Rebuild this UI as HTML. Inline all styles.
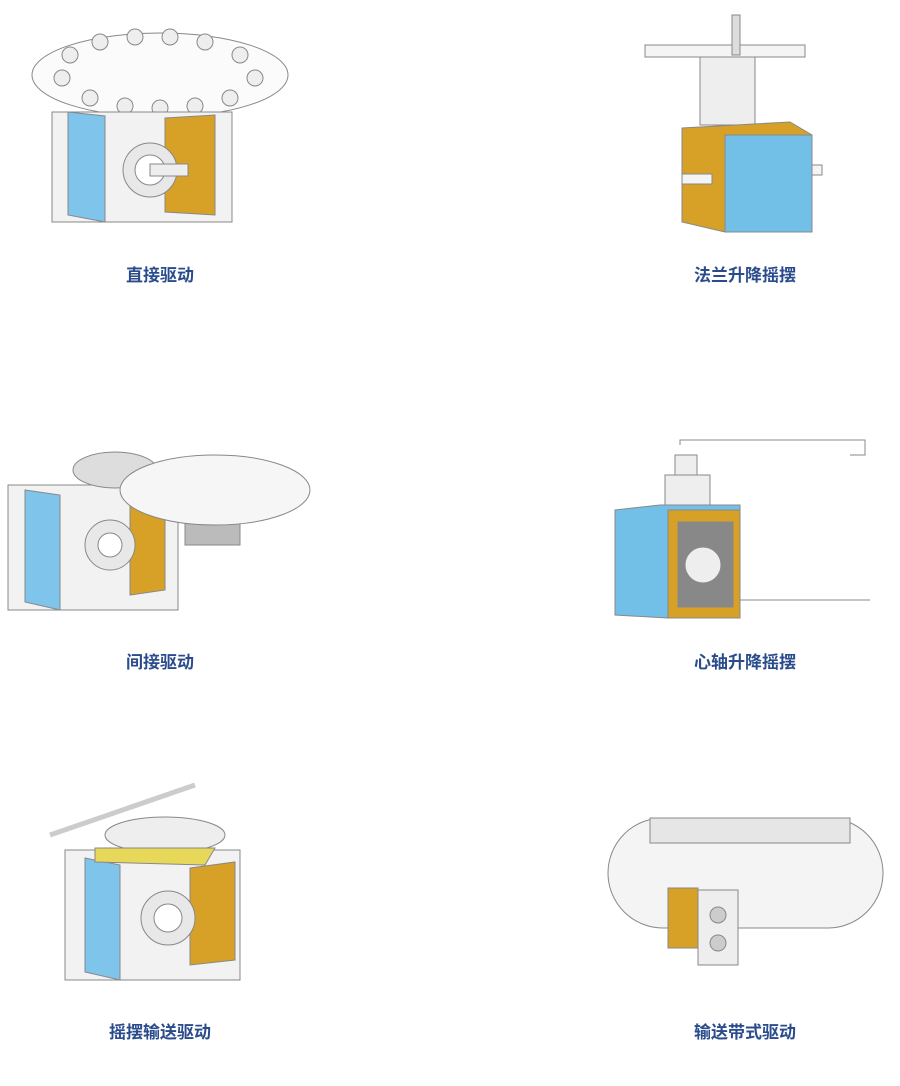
<!DOCTYPE html>
<html><head><meta charset="utf-8"><style>
html,body{margin:0;padding:0;background:#fff;}
svg{display:block}
text{font-family:"Liberation Sans","Noto Sans CJK SC",sans-serif;font-size:17px;font-weight:bold;fill:#2b4c8c;text-anchor:middle}
</style></head><body>
<svg width="900" height="1086" viewBox="0 0 900 1086">
<g stroke="#888" stroke-width="1">
<!-- 1 direct drive -->
<ellipse cx="160" cy="75" rx="128" ry="42" fill="#fbfbfb"/>
<g fill="#eee">
<circle cx="70" cy="55" r="8"/><circle cx="100" cy="42" r="8"/><circle cx="135" cy="37" r="8"/><circle cx="170" cy="37" r="8"/><circle cx="205" cy="42" r="8"/><circle cx="240" cy="55" r="8"/><circle cx="255" cy="78" r="8"/><circle cx="230" cy="98" r="8"/><circle cx="195" cy="106" r="8"/><circle cx="160" cy="108" r="8"/><circle cx="125" cy="106" r="8"/><circle cx="90" cy="98" r="8"/><circle cx="62" cy="78" r="8"/></g>
<rect x="52" y="112" width="180" height="110" fill="#f2f2f2"/>
<polygon points="68,112 105,116 105,222 68,215" fill="#7fc4ea"/>
<polygon points="165,118 215,115 215,215 165,212" fill="#d7a128"/>
<circle cx="150" cy="170" r="27" fill="#e8e8e8"/><circle cx="150" cy="170" r="15" fill="#fff"/>
<rect x="150" y="164" width="38" height="12" fill="#eee"/>
<!-- 2 flange -->
<rect x="700" y="55" width="55" height="70" fill="#eee"/>
<rect x="645" y="45" width="160" height="12" fill="#f4f4f4"/>
<rect x="732" y="15" width="8" height="40" fill="#ddd"/>
<polygon points="682,128 790,122 812,135 812,230 725,232 682,222" fill="#d7a128"/>
<rect x="725" y="135" width="87" height="97" fill="#72bfe8"/>
<rect x="682" y="174" width="30" height="10" fill="#f4f4f4"/>
<rect x="812" y="165" width="10" height="10" fill="#f4f4f4"/>
<!-- 3 indirect -->
<rect x="8" y="485" width="170" height="125" fill="#f2f2f2"/>
<polygon points="25,490 60,495 60,610 25,602" fill="#7fc4ea"/>
<polygon points="130,500 165,495 165,590 130,595" fill="#d7a128"/>
<circle cx="110" cy="545" r="25" fill="#e8e8e8"/><circle cx="110" cy="545" r="12" fill="#fff"/>
<ellipse cx="115" cy="470" rx="42" ry="18" fill="#ddd"/>
<rect x="185" y="500" width="55" height="45" fill="#bbb"/>
<ellipse cx="215" cy="490" rx="95" ry="35" fill="#f6f6f6"/>
<!-- 4 spindle -->
<polyline points="680,445 680,440 865,440 865,455 850,455" fill="none"/>
<rect x="675" y="455" width="22" height="20" fill="#eee"/>
<rect x="665" y="475" width="45" height="32" fill="#eee"/>
<polygon points="615,510 660,505 740,505 740,610 668,618 615,615" fill="#72bfe8"/>
<rect x="668" y="510" width="72" height="108" fill="#d7a128"/>
<rect x="678" y="522" width="55" height="85" fill="#888"/>
<circle cx="703" cy="565" r="18" fill="#eee"/>
<line x1="740" y1="600" x2="870" y2="600"/>
<!-- 5 swing conveyor -->
<line x1="50" y1="835" x2="195" y2="785" stroke-width="5" stroke="#ccc"/>
<ellipse cx="165" cy="835" rx="60" ry="18" fill="#eee"/>
<rect x="65" y="850" width="175" height="130" fill="#f2f2f2"/>
<polygon points="85,858 120,865 120,980 85,972" fill="#7fc4ea"/>
<polygon points="95,848 215,848 205,865 95,862" fill="#e8d85a"/>
<polygon points="190,868 235,862 235,960 190,965" fill="#d7a128"/>
<circle cx="168" cy="918" r="27" fill="#e8e8e8"/><circle cx="168" cy="918" r="14" fill="#fff"/>
<!-- 6 belt -->
<rect x="608" y="818" width="275" height="110" rx="55" fill="#f4f4f4"/>
<rect x="650" y="818" width="200" height="25" fill="#e6e6e6"/>
<rect x="668" y="888" width="30" height="60" fill="#d7a128"/>
<rect x="698" y="890" width="40" height="75" fill="#eee"/>
<circle cx="718" cy="915" r="8" fill="#ccc"/><circle cx="718" cy="943" r="8" fill="#ccc"/>
</g>
<text x="160" y="281">直接驱动</text>
<text x="745" y="281">法兰升降摇摆</text>
<text x="160" y="668">间接驱动</text>
<text x="745" y="668">心轴升降摇摆</text>
<text x="160" y="1038">摇摆输送驱动</text>
<text x="745" y="1038">输送带式驱动</text>
</svg>
</body></html>
